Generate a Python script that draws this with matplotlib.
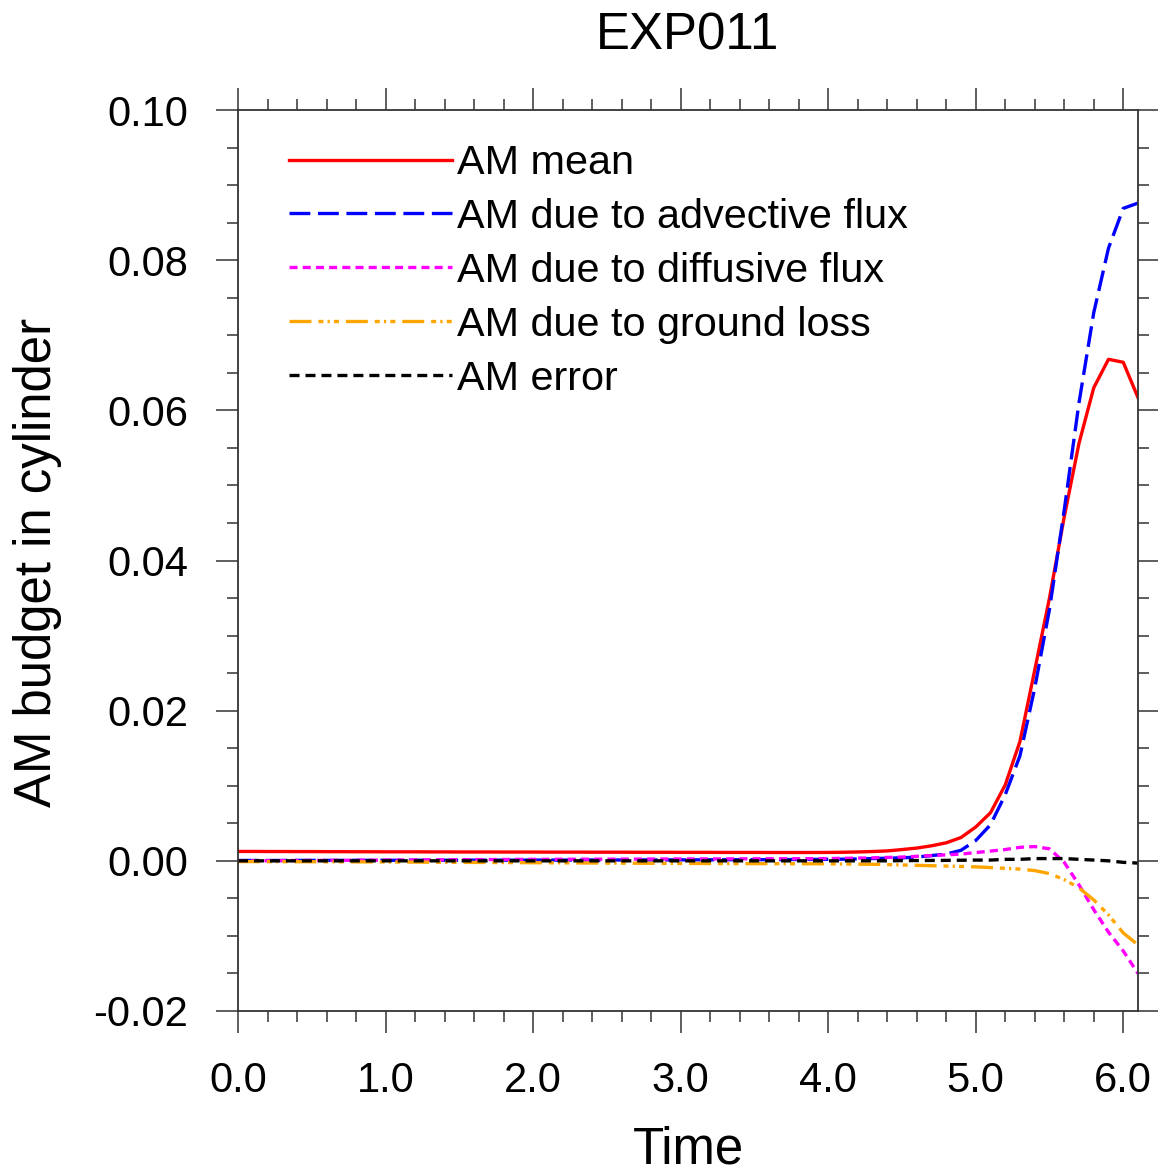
import numpy as np
import matplotlib.pyplot as plt
from matplotlib.ticker import MultipleLocator, FormatStrFormatter

plt.rcParams['font.family'] = ['Liberation Sans', 'DejaVu Sans']
plt.rcParams['lines.scale_dashes'] = False
plt.rcParams['axes.unicode_minus'] = False

# time steps 0.0 .. 6.1 (step 0.1)
time = np.linspace(0.0, 6.1, 62)

am_mean = [0.00125, 0.00125, 0.00124, 0.00124, 0.00123, 0.00123, 0.00122, 0.00122, 0.00121, 0.00121,
           0.00120, 0.00120, 0.00120, 0.00119, 0.00119, 0.00118, 0.00118, 0.00118, 0.00117, 0.00117,
           0.00117, 0.00116, 0.00116, 0.00116, 0.00115, 0.00115, 0.00115, 0.00114, 0.00114, 0.00114,
           0.00113, 0.00113, 0.00113, 0.00112, 0.00112, 0.00112, 0.00111, 0.00111, 0.00111, 0.00111,
           0.00112, 0.00114, 0.00118, 0.00124, 0.00132, 0.00150, 0.00170, 0.00200, 0.00240, 0.00310,
           0.0045, 0.0064, 0.0101, 0.0159, 0.0254, 0.0350, 0.0458, 0.0556, 0.0630, 0.0668,
           0.0664, 0.0617]
am_adv = [0.00005, 0.00005, 0.00005, 0.00005, 0.00006, 0.00006, 0.00006, 0.00006, 0.00007, 0.00007,
          0.00007, 0.00007, 0.00008, 0.00008, 0.00008, 0.00008, 0.00009, 0.00009, 0.00009, 0.00009,
          0.00010, 0.00010, 0.00010, 0.00010, 0.00011, 0.00011, 0.00011, 0.00012, 0.00012, 0.00012,
          0.00013, 0.00013, 0.00014, 0.00014, 0.00015, 0.00015, 0.00016, 0.00017, 0.00018, 0.00019,
          0.00020, 0.00022, 0.00025, 0.00030, 0.00035, 0.00040, 0.00050, 0.00070, 0.00090, 0.00140,
          0.0027, 0.0048, 0.0088, 0.0140, 0.0230, 0.0335, 0.0467, 0.0610, 0.0730, 0.0816,
          0.0869, 0.0876]
am_diff = [0.00000, 0.00001, 0.00002, 0.00003, 0.00004, 0.00005, 0.00006, 0.00007, 0.00008, 0.00009,
           0.00010, 0.00011, 0.00012, 0.00013, 0.00014, 0.00015, 0.00016, 0.00017, 0.00018, 0.00019,
           0.00020, 0.00020, 0.00021, 0.00021, 0.00022, 0.00022, 0.00023, 0.00023, 0.00024, 0.00024,
           0.00025, 0.00025, 0.00026, 0.00026, 0.00027, 0.00027, 0.00028, 0.00028, 0.00029, 0.00029,
           0.00030, 0.00033, 0.00036, 0.00040, 0.00045, 0.00050, 0.00060, 0.00070, 0.00080, 0.00090,
           0.0011, 0.0013, 0.0015, 0.0018, 0.0019, 0.0016, -0.0002, -0.0032, -0.0065, -0.0095,
           -0.0120, -0.0150]
am_ground = [-0.00010, -0.00010, -0.00011, -0.00011, -0.00012, -0.00012, -0.00013, -0.00013, -0.00014, -0.00014,
             -0.00015, -0.00016, -0.00017, -0.00018, -0.00019, -0.00020, -0.00021, -0.00022, -0.00023, -0.00024,
             -0.00025, -0.00026, -0.00027, -0.00028, -0.00029, -0.00030, -0.00031, -0.00032, -0.00033, -0.00034,
             -0.00035, -0.00035, -0.00036, -0.00036, -0.00037, -0.00037, -0.00038, -0.00038, -0.00039, -0.00039,
             -0.00040, -0.00042, -0.00044, -0.00046, -0.00050, -0.00055, -0.00060, -0.00065, -0.00070, -0.00075,
             -0.0008, -0.0009, -0.0010, -0.0011, -0.0013, -0.0017, -0.0025, -0.0036, -0.0052, -0.0072,
             -0.0096, -0.0112]
am_error = [0.0] * 45 + [0.00003, 0.00004, 0.00005, 0.00006, 0.00008,
                         0.0001, 0.0001, 0.0002, 0.0002, 0.0003, 0.0003, 0.0003, 0.0002, 0.0001, 0.0000,
                         -0.0002, -0.0003]

series = [am_mean, am_adv, am_diff, am_ground, am_error]
labels = ['AM mean', 'AM due to advective flux', 'AM due to diffusive flux',
          'AM due to ground loss', 'AM error']
colors = ['#FF0000', '#0000FF', '#FF00FF', '#FFA500', '#000000']
dashes = [None, (15, 5.5), (5.8, 3.7), (15.8, 5, 3.6, 3, 1.6, 3, 3.6, 5), (7.2, 4.3)]

fig = plt.figure(figsize=(11.58, 11.73), dpi=100)
ax = fig.add_axes([238/1158, 1-1011/1173, 900/1158, 901/1173])

for y, lab, c, d in zip(series, labels, colors, dashes):
    line, = ax.plot(time, y, color=c, lw=2.4, label=lab)
    if d is not None:
        line.set_dashes(d)

ax.set_xlim(0, 6.1)
ax.set_ylim(-0.02, 0.10)
ax.xaxis.set_major_locator(MultipleLocator(1.0))
ax.xaxis.set_minor_locator(MultipleLocator(0.2))
ax.xaxis.set_major_formatter(FormatStrFormatter('%.1f'))
ax.yaxis.set_major_locator(MultipleLocator(0.02))
ax.yaxis.set_minor_locator(MultipleLocator(0.005))
ax.yaxis.set_major_formatter(FormatStrFormatter('%.2f'))

ax.tick_params(which='both', direction='out', top=True, right=True, width=1.1, color='#333333')
ax.tick_params(which='major', length=15.8, labelsize=30)
ax.tick_params(which='minor', length=7.9)
ax.tick_params(axis='x', which='major', pad=20)
ax.tick_params(axis='y', which='major', pad=20)
for s in ax.spines.values():
    s.set_linewidth(1.3)
    s.set_color('#333333')

fig.text(688/1158, 1-50/1173, 'EXP011', ha='center', va='baseline', fontsize=36.7)
ax.set_xlabel('Time', fontsize=36.7, va='baseline')
ax.xaxis.set_label_coords(0.5, (1011-1164)/901)
ax.set_ylabel('AM budget in cylinder', fontsize=36.7, va='center')
ax.yaxis.set_label_coords((38-238)/900, (1011-562)/901)

ax.legend(loc='upper left', bbox_to_anchor=((289-238)/900, (1011-144)/901),
          frameon=False, fontsize=29.8, handlelength=3.93, handletextpad=0.14,
          labelspacing=0.385, borderpad=0, borderaxespad=0)

fig.savefig('out.png', dpi=100)
